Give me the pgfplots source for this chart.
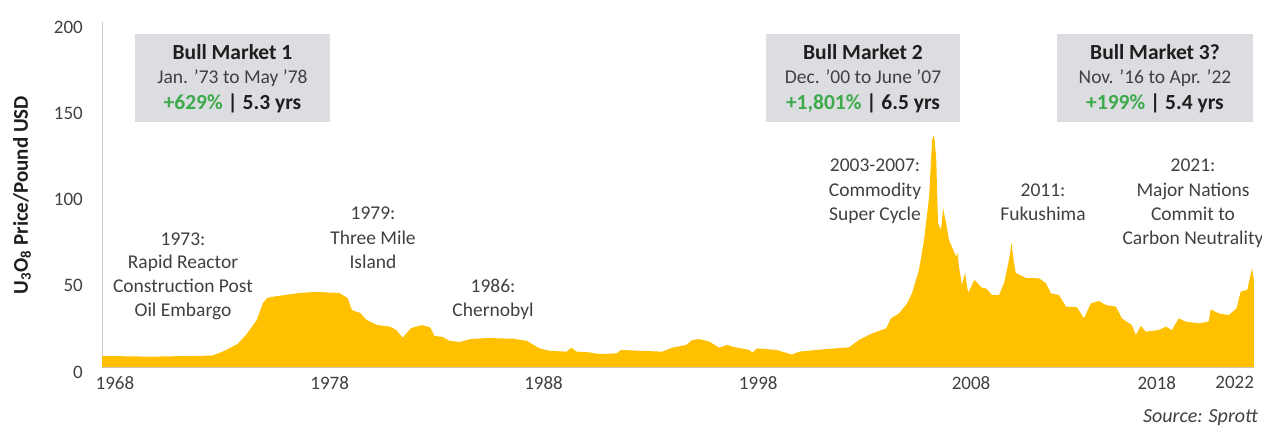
\documentclass[border=0pt]{standalone}
\usepackage{pgfplots}
\pgfplotsset{compat=1.18}
\usepackage{fontspec}
\setmainfont{Carlito}
\definecolor{gold}{HTML}{FFC000}
\definecolor{boxgray}{HTML}{DCDDE1}
\definecolor{bullgreen}{HTML}{3DAA4B}
\definecolor{txt}{HTML}{404040}
\definecolor{dark}{HTML}{1E1E1E}
\definecolor{axisgray}{HTML}{C8C8C8}
\newcommand\fs[1]{\fontsize{#1}{#1}\selectfont}
\newcommand\ann[3]{\node[anchor=base, inner sep=0pt, text=txt, font=\fs{19.5}] at (#1pt,#2pt) {#3};}
\newcommand\ttl[3]{\node[anchor=base, inner sep=0pt, text=dark, font=\fs{21.5}\bfseries] at (#1pt,#2pt) {#3};}

\pgfplotstableread{
year price
1968.0 6.4
1970.3 6.0
1973.2 6.6
1973.7 8.9
1974.4 13.3
1974.8 18.6
1975.3 27.0
1975.6 37.0
1975.8 40.0
1976.1 40.8
1977.3 42.9
1978.1 43.5
1979.2 42.9
1979.6 40.0
1979.8 33.0
1980.2 31.3
1980.5 27.2
1981.0 24.3
1981.6 23.4
1981.9 21.4
1982.2 17.0
1982.6 22.6
1983.1 24.3
1983.5 23.0
1983.7 18.0
1984.1 17.4
1984.4 15.2
1984.9 14.5
1985.4 16.2
1986.2 16.8
1987.4 16.4
1988.05 15.2
1988.66 10.8
1989.13 9.4
1989.93 8.9
1990.17 11.2
1990.41 8.9
1991.02 8.5
1991.49 7.5
1992.29 7.9
1992.53 9.9
1993.38 9.4
1994.46 8.9
1994.93 11.2
1995.59 12.8
1995.88 15.7
1996.21 16.2
1996.68 14.7
1997.15 11.2
1997.53 12.8
1997.76 11.8
1998.57 9.9
1998.71 8.3
1998.94 10.8
1999.84 9.9
2000.59 7.2
2000.92 8.9
2002.01 10.2
2003.28 11.4
2003.75 15.7
2004.37 19.5
2005.03 22.4
2005.26 28.2
2005.64 31.1
2006.02 36.9
2006.25 42.7
2006.58 56.2
2006.82 73.6
2007.06 98.7
2007.20 131.6
2007.29 134.5
2007.39 122.0
2007.48 83.4
2007.62 79.4
2007.72 92.0
2007.86 83.3
2008.00 73.6
2008.33 64.0
2008.40 66.0
2008.47 58.1
2008.61 47.5
2008.75 54.5
2008.90 43.0
2009.20 50.4
2009.56 45.8
2009.75 45.6
2010.03 41.7
2010.36 41.7
2010.60 48.7
2010.83 62.0
2010.95 71.9
2011.05 62.0
2011.15 54.5
2011.63 51.6
2012.25 51.4
2012.58 48.5
2012.81 42.7
2013.19 41.7
2013.52 35.0
2014.04 34.6
2014.37 28.2
2014.70 36.9
2015.08 38.3
2015.41 35.9
2015.88 35.0
2016.16 28.2
2016.63 24.3
2016.82 18.6
2017.06 23.8
2017.29 20.5
2017.91 21.4
2018.24 23.4
2018.52 21.4
2018.85 28.2
2019.18 26.3
2019.79 25.3
2020.26 26.3
2020.36 33.4
2020.73 31.1
2021.21 30.1
2021.58 34.0
2021.77 43.7
2022.08 44.6
2022.31 57.2
2022.36 53.3
2022.40 50.0
}\uranium

\begin{document}
\begin{tikzpicture}
\path[use as bounding box] (0,0) rectangle (1262pt,426pt);
\begin{axis}[
  at={(102pt,59pt)}, anchor=south west,
  scale only axis, width=1152pt, height=345pt,
  xmin=1968, xmax=2022.4, ymin=0, ymax=200,
  axis lines=left,
  axis line style={-, draw=axisgray, line width=1pt},
  major tick length=0pt,
  xtick={1968.61,1978.75,1988.85,1998.99,2009.04,2017.81,2021.49},
  xticklabels={1968,1978,1988,1998,2008,2018,2022},
  ytick={0,50,100,150,200},
  tick label style={font=\fs{19}, text=txt},
  xticklabel style={anchor=north, inner sep=0pt, yshift=-9pt},
  yticklabel style={anchor=east, inner sep=0pt, xshift=-19pt, yshift=-5pt},
  /pgf/number format/assume math mode=true,
]
\addplot[fill=gold, draw=none] table[x=year, y=price] {\uranium} \closedcycle;
\end{axis}

% y label
\node[rotate=90, anchor=center, inner sep=0pt, text=dark, font=\fs{21}\bfseries] at (22pt,231pt) {U\textsubscript{3}O\textsubscript{8} Price/Pound USD};

% boxes
\fill[boxgray] (135pt,304pt) rectangle (330pt,392pt);
\fill[boxgray] (766pt,304pt) rectangle (960pt,392pt);
\fill[boxgray] (1057pt,304pt) rectangle (1253pt,392pt);

\ttl{232.5}{366.5}{Bull Market 1}
\ann{232.5}{342.5}{Jan. ’73 to May ’78}
\ttl{232.5}{316.5}{\textcolor{bullgreen}{+629\%} | 5.3 yrs}

\ttl{863}{366.5}{Bull Market 2}
\ann{863}{342.5}{Dec. ’00 to June ’07}
\ttl{863}{316.5}{\textcolor{bullgreen}{+1,801\%} | 6.5 yrs}

\ttl{1155}{366.5}{Bull Market 3?}
\ann{1155}{342.5}{Nov. ’16 to Apr. ’22}
\ttl{1155}{316.5}{\textcolor{bullgreen}{+199\%} | 5.4 yrs}

% annotations
\ann{183}{180.5}{1973:}
\ann{183}{157.5}{Rapid Reactor}
\ann{183}{133.5}{Construction Post}
\ann{183}{109.5}{Oil Embargo}

\ann{373}{206.5}{1979:}
\ann{373}{181.5}{Three Mile}
\ann{373}{157.5}{Island}

\ann{493}{133.5}{1986:}
\ann{493}{109.5}{Chernobyl}

\ann{875}{254.5}{2003-2007:}
\ann{875}{229.5}{Commodity}
\ann{875}{205.5}{Super Cycle}

\ann{1043}{229.5}{2011:}
\ann{1043}{205.5}{Fukushima}

\ann{1193}{254.5}{2021:}
\ann{1193}{229.5}{Major Nations}
\ann{1193}{205.5}{Commit to}
\ann{1193}{181.5}{Carbon Neutrality}

\node[anchor=base east, inner sep=0pt, text=txt, font=\fs{20}\itshape] at (1258pt,3pt) {Source: Sprott};
\end{tikzpicture}
\end{document}
